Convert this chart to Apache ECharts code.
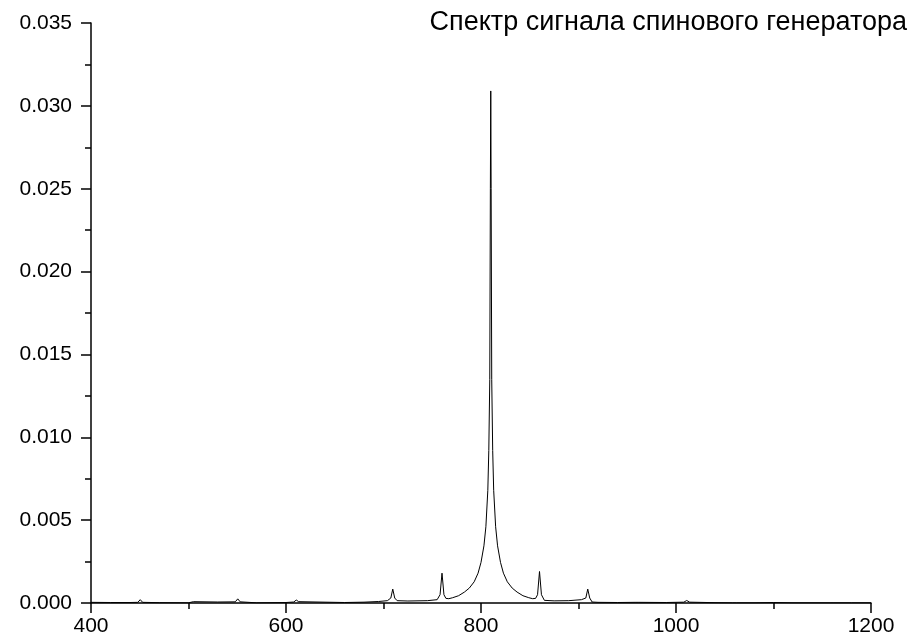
<!DOCTYPE html>
<html>
<head>
<meta charset="utf-8">
<script src="https://cdn.jsdelivr.net/npm/echarts@6/dist/echarts.min.js"></script>
<style>
html,body{margin:0;padding:0;background:#fff;}
#chart{width:918px;height:642px;}
</style>
</head>
<body>
<div id="chart"></div>
<script>
var titleText = "Спектр сигнала спинового генератора";
var xTicks = [400, 600, 800, 1000, 1200];
var yTicks = [0, 0.005, 0.010, 0.015, 0.020, 0.025, 0.030, 0.035];

var freq = [
  400, 420, 440, 448, 450.5, 453, 470, 500, 505, 530, 548, 550.5, 553, 570,
  600, 608, 610.5, 613, 640, 660, 680, 695, 704, 707.5, 709.5, 711.5, 714,
  725, 745, 755, 758, 760, 762, 764, 767, 771, 777, 783, 788, 793, 797, 800, 803,
  805, 807, 808, 809, 809.6, 810, 810.4, 811, 812, 813, 815, 817, 820, 823,
  827, 832, 837, 843, 849, 853, 856, 858, 860, 862, 865, 875, 890, 903, 907.5,
  909.5, 911.5, 914, 920, 940, 958, 960, 962, 990, 1008, 1011, 1014, 1040,
  1058, 1060, 1062, 1080, 1100, 1120, 1158, 1160, 1162, 1180, 1200
];
var amp = [
  0.00004, 0.00003, 0.00003, 0.00004, 0.00020, 0.00004, 0.00002, 0.00001, 0.00008, 0.00006, 0.00007, 0.00025, 0.00007, 0.00001,
  0.00003, 0.00006, 0.00018, 0.00008, 0.00005, 0.00003, 0.00005, 0.00009, 0.00014, 0.00030, 0.00084, 0.00030, 0.00014,
  0.00012, 0.00014, 0.00020, 0.00050, 0.00180, 0.00050, 0.00028, 0.00026, 0.00032, 0.00044, 0.00066, 0.00090, 0.00128, 0.00180, 0.00245, 0.00345,
  0.00460, 0.00680, 0.00920, 0.01350, 0.02500, 0.03090, 0.02500, 0.01350, 0.00920, 0.00680, 0.00460, 0.00345, 0.00245, 0.00180,
  0.00128, 0.00090, 0.00066, 0.00044, 0.00032, 0.00026, 0.00028, 0.00050, 0.00190, 0.00050, 0.00016, 0.00013, 0.00014, 0.00020, 0.00030,
  0.00084, 0.00030, 0.00006, 0.00004, 0.00003, 0.00004, 0.00012, 0.00004, 0.00003, 0.00005, 0.00015, 0.00005, 0.00002,
  0.00001, 0.00006, 0.00001, 0.00001, 0.00003, 0.00001, 0.00001, 0.00006, 0.00001, 0.00001, 0.00001
];

var data = freq.map(function (f, i) { return [f, amp[i]]; });

var chart = echarts.init(document.getElementById('chart'), null, {renderer: 'canvas'});
var font = 'Liberation Sans, Arial, sans-serif';
chart.setOption({
  animation: false,
  backgroundColor: '#ffffff',
  title: {
    text: titleText,
    right: 6,
    top: 4,
    textStyle: {fontFamily: font, fontSize: 27, fontWeight: 'normal', color: '#000'}
  },
  grid: {left: 91, right: 47, top: 23, bottom: 39},
  xAxis: {
    type: 'value',
    min: xTicks[0],
    max: xTicks[xTicks.length - 1],
    interval: 200,
    axisLine: {show: true, onZero: false, lineStyle: {color: '#000', width: 1.5}},
    axisTick: {show: true, inside: false, length: 10, lineStyle: {color: '#000', width: 1.5}},
    minorTick: {show: true, splitNumber: 2, length: 6, lineStyle: {color: '#000', width: 1.5}},
    splitLine: {show: false},
    axisLabel: {color: '#000', fontFamily: font, fontSize: 21, margin: 13,
      formatter: function (v) { return String(v); }}
  },
  yAxis: {
    type: 'value',
    min: yTicks[0],
    max: yTicks[yTicks.length - 1],
    interval: 0.005,
    axisLine: {show: true, lineStyle: {color: '#000', width: 1.5}},
    axisTick: {show: true, inside: false, length: 10, lineStyle: {color: '#000', width: 1.5}},
    minorTick: {show: true, splitNumber: 2, length: 6, lineStyle: {color: '#000', width: 1.5}},
    splitLine: {show: false},
    axisLabel: {color: '#000', fontFamily: font, fontSize: 21, margin: 19,
      formatter: function (v) { return v.toFixed(3); }}
  },
  series: [{
    type: 'line',
    data: data,
    showSymbol: false,
    symbol: 'none',
    lineStyle: {color: '#000', width: 1},
    sampling: null
  }]
});
</script>
</body>
</html>
